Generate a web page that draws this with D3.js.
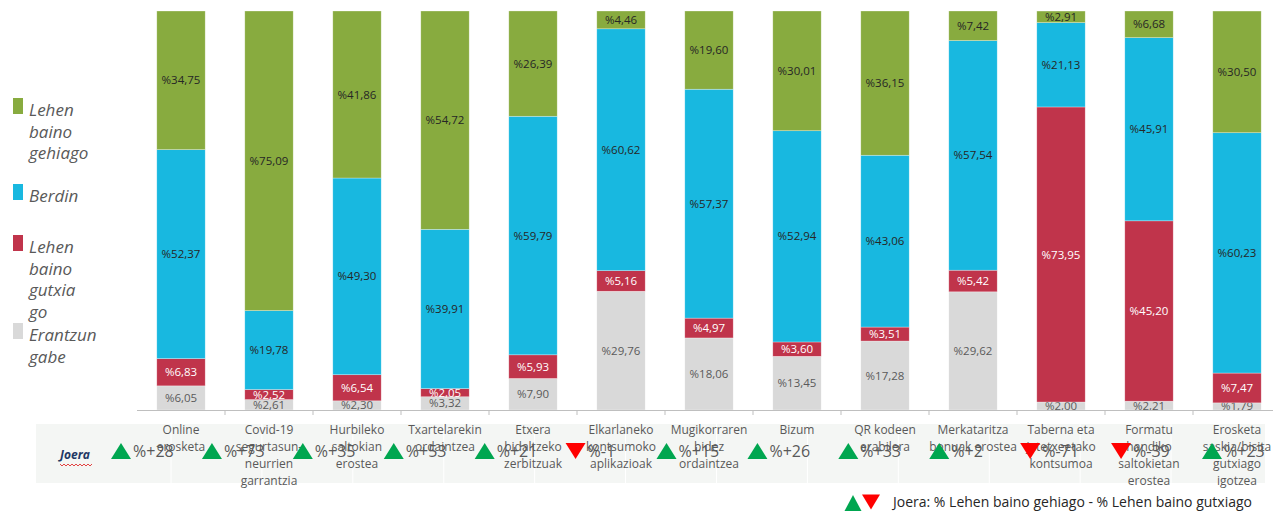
<!DOCTYPE html>
<html>
<head>
<meta charset="utf-8">
<script src="https://cdnjs.cloudflare.com/ajax/libs/d3/7.8.5/d3.min.js"></script>
<style>
	body { margin: 0; background: #fff; }
	svg { display: block; font-family: "Open Sans", "Noto Sans", sans-serif; }
</style>
</head>
<body>
<svg id="chart" width="1273" height="511"></svg>
<script>

// data
var categories = ["c1","c2","c3","c4","c5","c6","c7","c8","c9","c10","c11","c12","c13"];
var catLabels = [
	["Online", "erosketa"],
	["Covid-19", "segurtasun-", "neurrien", "garrantzia"],
	["Hurbileko", "saltokian", "erostea"],
	["Txartelarekin", "ordaintzea"],
	["Etxera", "bidaltzeko", "zerbitzuak"],
	["Elkarlaneko", "kontsumoko", "aplikazioak"],
	["Mugikorraren", "bidez", "ordaintzea"],
	["Bizum"],
	["QR kodeen", "erabilera"],
	["Merkataritza", "bonuak erostea"],
	["Taberna eta", "jatetxeetako", "kontsumoa"],
	["Formatu", "handiko", "saltokietan", "erostea"],
	["Erosketa", "saskia/bisita", "gutxiago", "igotzea"]
];
var gehiago  = [34.75, 75.09, 41.86, 54.72, 26.39, 4.46, 19.60, 30.01, 36.15, 7.42, 2.91, 6.68, 30.50];
var berdin   = [52.37, 19.78, 49.30, 39.91, 59.79, 60.62, 57.37, 52.94, 43.06, 57.54, 21.13, 45.91, 60.23];
var gutxiago = [6.83, 2.52, 6.54, 2.05, 5.93, 5.16, 4.97, 3.60, 3.51, 5.42, 73.95, 45.20, 7.47];
var gabe     = [6.05, 2.61, 2.30, 3.32, 7.90, 29.76, 18.06, 13.45, 17.28, 29.62, 2.00, 2.21, 1.79];
var joera    = [28, 73, 35, 53, 21, -1, 15, 26, 33, 2, -71, -39, 23];

var seriesNames = [
	["Lehen", "baino", "gehiago"],
	["Berdin"],
	["Lehen", "baino", "gutxia", "go"],
	["Erantzun", "gabe"]
];
var seriesColors = ["#88ab3f", "#18b8e0", "#c0344b", "#d9d9d9"];
var seriesText = ["#262626", "#262626", "#ffffff", "#595959"];


var svg = d3.select("#chart");

// scales
var x = d3.scaleBand()
	.domain(categories)
	.range([137, 1281])
	.paddingInner(0.45)
	.paddingOuter(0.225)
	;
var y = d3.scaleLinear()
	.domain([0, 100])
	.range([410, 11])
	;
var xt = d3.scalePoint()
	.domain(categories)
	.range([121, 1212])
	;

// stack, bottom to top: gabe, gutxiago, berdin, gehiago
var rows = categories.map(function(c, i){
	return {cat: c, s0: gehiago[i], s1: berdin[i], s2: gutxiago[i], s3: gabe[i]};
});
var stack = d3.stack().keys(["s3", "s2", "s1", "s0"]);
var layers = stack(rows);
var colorIndex = {s0: 0, s1: 1, s2: 2, s3: 3};


// table background behind the trend row
svg.append("rect")
	.attr("x", 36).attr("y", 424)
	.attr("width", 1229).attr("height", 59)
	.attr("fill", "#f4f6f4")
	;
svg.selectAll(".sep")
	.data(categories.slice(0, 12))
	.enter().append("line")
	.attr("class", "sep")
	.attr("x1", function(d){ return xt(d) + 50; })
	.attr("x2", function(d){ return xt(d) + 50; })
	.attr("y1", 424).attr("y2", 483)
	.attr("stroke", "#ffffff")
	.attr("stroke-width", 1)
	;


// bars
var layer = svg.selectAll(".layer")
	.data(layers)
	.enter().append("g")
	.attr("class", "layer")
	.attr("fill", function(d){ return seriesColors[colorIndex[d.key]]; })
	;
layer.selectAll("rect")
	.data(function(d){ return d; })
	.enter().append("rect")
	.attr("x", function(d){ return x(d.data.cat); })
	.attr("y", function(d){ return y(d[1]); })
	.attr("width", x.bandwidth())
	.attr("height", function(d){ return y(d[0]) - y(d[1]); })
	.attr("stroke", "#ffffff")
	.attr("stroke-opacity", 0.5)
	.attr("stroke-width", 0.6)
	;

// bar labels
layer.each(function(l){
	var ci = colorIndex[l.key];
	d3.select(this).selectAll("text")
		.data(l)
		.enter().append("text")
		.attr("x", function(d){ return x(d.data.cat) + x.bandwidth() / 2; })
		.attr("y", function(d){ return (y(d[0]) + y(d[1])) / 2; })
		.attr("dy", "0.35em")
		.attr("text-anchor", "middle")
		.attr("font-size", 11.5)
		.attr("fill", seriesText[ci])
		.text(function(d){ return "%" + (d[1] - d[0]).toFixed(2).replace(".", ","); })
		;
});


// axis line and ticks
svg.append("line")
	.attr("x1", 137).attr("x2", 1273)
	.attr("y1", 410.5).attr("y2", 410.5)
	.attr("stroke", "#bfbfbf")
	;
svg.selectAll(".tick")
	.data(categories.slice(1))
	.enter().append("line")
	.attr("class", "tick")
	.attr("x1", function(d){ return x(d) - x.step() * x.paddingInner() / 2; })
	.attr("x2", function(d){ return x(d) - x.step() * x.paddingInner() / 2; })
	.attr("y1", 410).attr("y2", 415)
	.attr("stroke", "#bfbfbf")
	;


// category labels
svg.selectAll(".catlabel")
	.data(categories)
	.enter().append("text")
	.attr("class", "catlabel")
	.attr("text-anchor", "middle")
	.attr("font-size", 12)
	.attr("fill", "#595959")
	.each(function(d, i){
		var t = d3.select(this);
		catLabels[i].forEach(function(line, j){
			t.append("tspan")
				.attr("x", x(d) + x.bandwidth() / 2)
				.attr("y", 434 + j * 17)
				.text(line);
		});
	})
	;


// trend row
var joeraText = svg.append("text")
	.attr("x", 60).attr("y", 459)
	.attr("font-size", 12)
	.attr("font-style", "italic")
	.attr("font-weight", "bold")
	.attr("fill", "#1f3864")
	.text("Joera")
	;
// squiggle under Joera
var sq = "M60,464";
for (var k = 0; k < 8; k++) {
	sq += " l2,2 l2,-2";
}
svg.append("path")
	.attr("d", sq)
	.attr("fill", "none")
	.attr("stroke", "#e0302f")
	.attr("stroke-width", 0.9)
	;

function triangle(cx, cy, up, w, h){
	if (up) return "M" + (cx - w/2) + "," + (cy + h/2) + " L" + cx + "," + (cy - h/2) + " L" + (cx + w/2) + "," + (cy + h/2) + " Z";
	return "M" + (cx - w/2) + "," + (cy - h/2) + " L" + cx + "," + (cy + h/2) + " L" + (cx + w/2) + "," + (cy - h/2) + " Z";
}

var trend = svg.selectAll(".trend")
	.data(categories)
	.enter().append("g")
	.attr("class", "trend")
	;
trend.append("path")
	.attr("d", function(d, i){ return triangle(xt(d), 451, joera[i] >= 0, 20, 16); })
	.attr("fill", function(d, i){ return joera[i] >= 0 ? "#00a650" : "#ff0000"; })
	;
trend.append("text")
	.attr("x", function(d){ return xt(d) + 12; })
	.attr("y", 457)
	.attr("font-size", 16)
	.attr("fill", "#595959")
	.text(function(d, i){ return "%" + (joera[i] >= 0 ? "+" : "-") + Math.abs(joera[i]); })
	;


// legend
var legend = svg.append("g").attr("class", "legend");
var legendY = [98, 184, 235, 323];
seriesNames.forEach(function(name, i){
	legend.append("rect")
		.attr("x", 13).attr("y", legendY[i])
		.attr("width", 10).attr("height", 16)
		.attr("fill", seriesColors[i])
		;
	var t = legend.append("text")
		.attr("font-size", 17)
		.attr("font-style", "italic")
		.attr("fill", "#595959")
		;
	name.forEach(function(line, j){
		t.append("tspan")
			.attr("x", 29)
			.attr("y", legendY[i] + 18 + j * 21.5)
			.text(line);
	});
});

// bottom note
svg.append("path")
	.attr("d", triangle(853, 503, true, 17, 16))
	.attr("fill", "#00a650")
	;
svg.append("path")
	.attr("d", triangle(871, 502, false, 18, 15))
	.attr("fill", "#ff0000")
	;
svg.append("text")
	.attr("x", 893).attr("y", 507)
	.attr("font-size", 14)
	.attr("fill", "#262626")
	.text("Joera: % Lehen baino gehiago - % Lehen baino gutxiago")
	;

</script>
</body>
</html>
